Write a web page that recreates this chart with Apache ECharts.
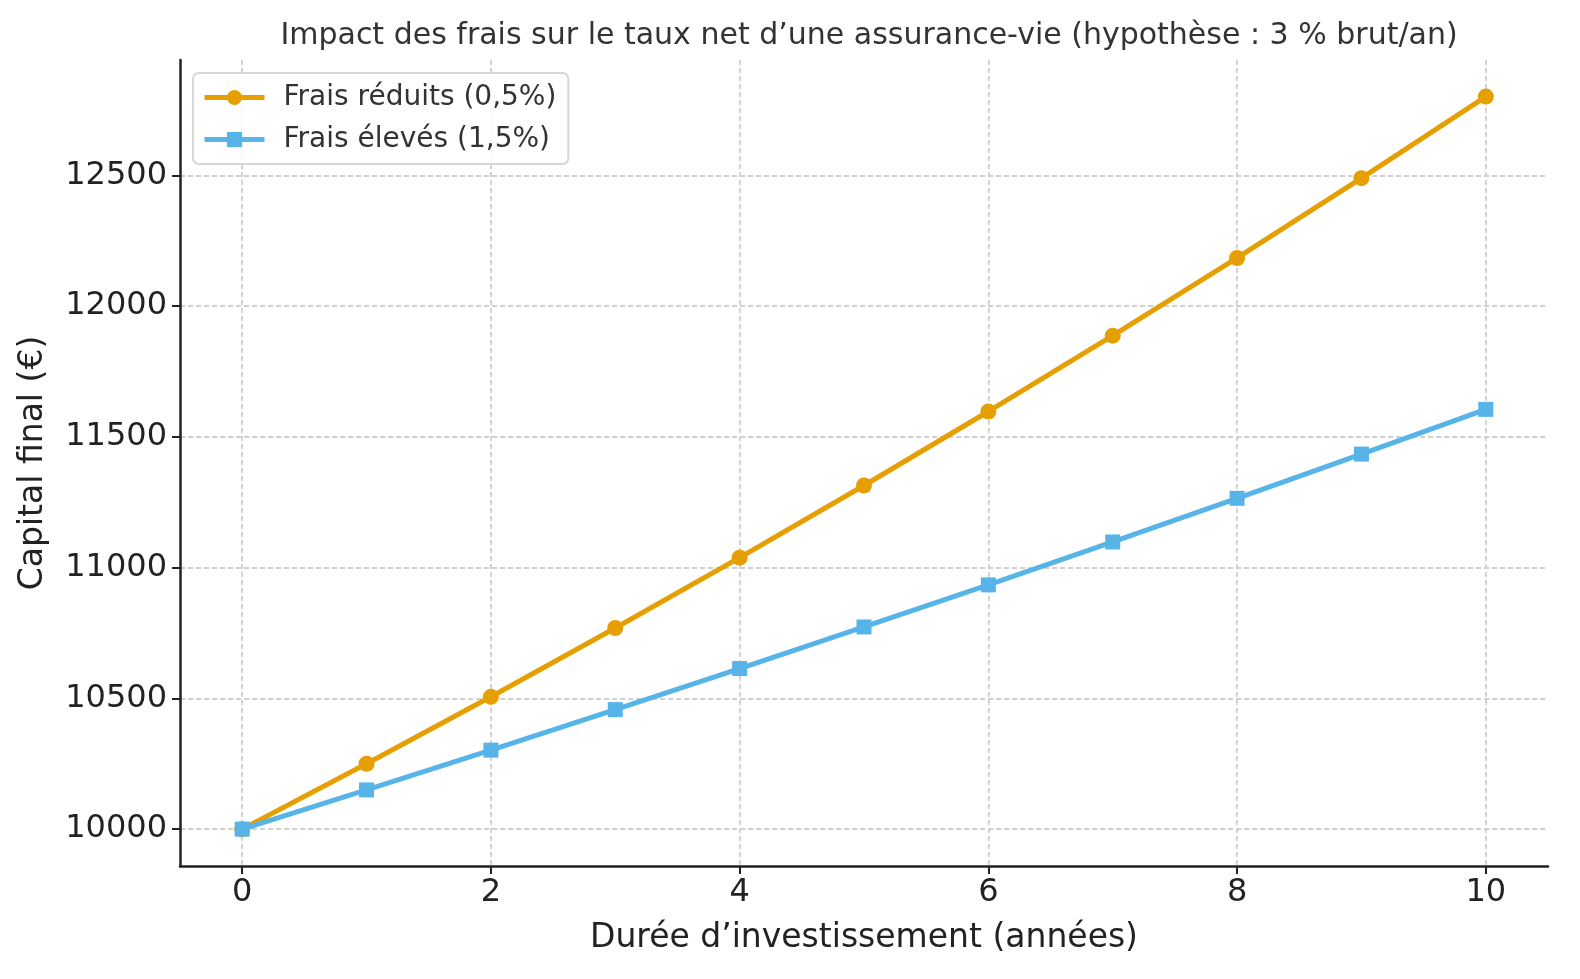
<!DOCTYPE html>
<html><head><meta charset="utf-8">
<script src="https://cdn.jsdelivr.net/npm/echarts@6/dist/echarts.min.js"></script>
<style>html,body{margin:0;padding:0;background:#fff}#c{width:1580px;height:979px}</style>
</head><body><div id="c"></div>
<script>
const years = [0, 1, 2, 3, 4, 5, 6, 7, 8, 9, 10];
const fraisReduits = [10000, 10250, 10506, 10769, 11038, 11314, 11597, 11887, 12184, 12489, 12801];
const fraisEleves = [10000, 10150, 10302, 10457, 10614, 10773, 10934, 11098, 11265, 11434, 11605];
const xTicks = [0, 2, 4, 6, 8, 10];
const yTicks = [10000, 10500, 11000, 11500, 12000, 12500];
const seriesNames = ['Frais réduits (0,5%)', 'Frais élevés (1,5%)'];
const titleText = 'Impact des frais sur le taux net d’une assurance-vie (hypothèse : 3 % brut/an)';
const xName = 'Durée d’investissement (années)';
const yName = 'Capital final (€)';

const FONT = 'DejaVu Sans';
const chart = echarts.init(document.getElementById('c'), null, {renderer: 'canvas'});
const gridLine = {show: true, lineStyle: {color: '#d0d0d0', width: 1.8, type: [5, 3]}};
chart.setOption({
  animation: false,
  backgroundColor: '#fff',
  title: {text: titleText, left: 864, textAlign: 'center', top: 16, textStyle: {fontFamily: FONT, fontSize: 30, fontWeight: 'normal', color: '#333'}},
  legend: {
    left: 193, top: 73, orient: 'vertical',
    itemWidth: 60, itemHeight: 19, itemGap: 11,
    padding: [9, 12, 9, 9],
    backgroundColor: 'rgba(255,255,255,0.85)', borderColor: '#d6d6d6', borderWidth: 2, borderRadius: 6,
    lineStyle: {width: 5},
    textStyle: {fontFamily: FONT, fontSize: 28, color: '#333', lineHeight: 31, padding: [0, 0, 0, 14]},
    data: seriesNames
  },
  grid: {left: 180, right: 32, top: 60, bottom: 113, containLabel: false},
  xAxis: {
    type: 'value', min: -0.5, max: 10.5,
    name: xName, nameLocation: 'middle', nameGap: 56,
    nameTextStyle: {fontFamily: FONT, fontSize: 33, color: '#222'},
    axisLine: {show: true, onZero: false, lineStyle: {color: '#222', width: 2.5}},
    axisTick: {show: true, customValues: xTicks, length: 8, lineStyle: {color: '#222', width: 2}},
    axisLabel: {customValues: xTicks, fontFamily: FONT, fontSize: 32, color: '#222', margin: 11, formatter: v => String(v)},
    splitLine: gridLine
  },
  yAxis: {
    type: 'value', min: 9859, max: 12941,
    name: yName, nameLocation: 'middle', nameGap: 130,
    nameTextStyle: {fontFamily: FONT, fontSize: 33, color: '#222'},
    axisLine: {show: true, onZero: false, lineStyle: {color: '#222', width: 2.5}},
    axisTick: {show: true, customValues: yTicks, length: 8, lineStyle: {color: '#222', width: 2}},
    axisLabel: {customValues: yTicks, fontFamily: FONT, fontSize: 32, color: '#222', margin: 13, formatter: v => String(v)},
    splitLine: gridLine
  },
  series: [
    {name: seriesNames[0], type: 'line', data: years.map((y, i) => [y, fraisReduits[i]]),
     symbol: 'circle', symbolSize: 16, lineStyle: {width: 5, color: '#E69F00'}, itemStyle: {color: '#E69F00'}},
    {name: seriesNames[1], type: 'line', data: years.map((y, i) => [y, fraisEleves[i]]),
     symbol: 'rect', symbolSize: 15, lineStyle: {width: 5, color: '#56B4E9'}, itemStyle: {color: '#56B4E9'}}
  ]
});
</script></body></html>
